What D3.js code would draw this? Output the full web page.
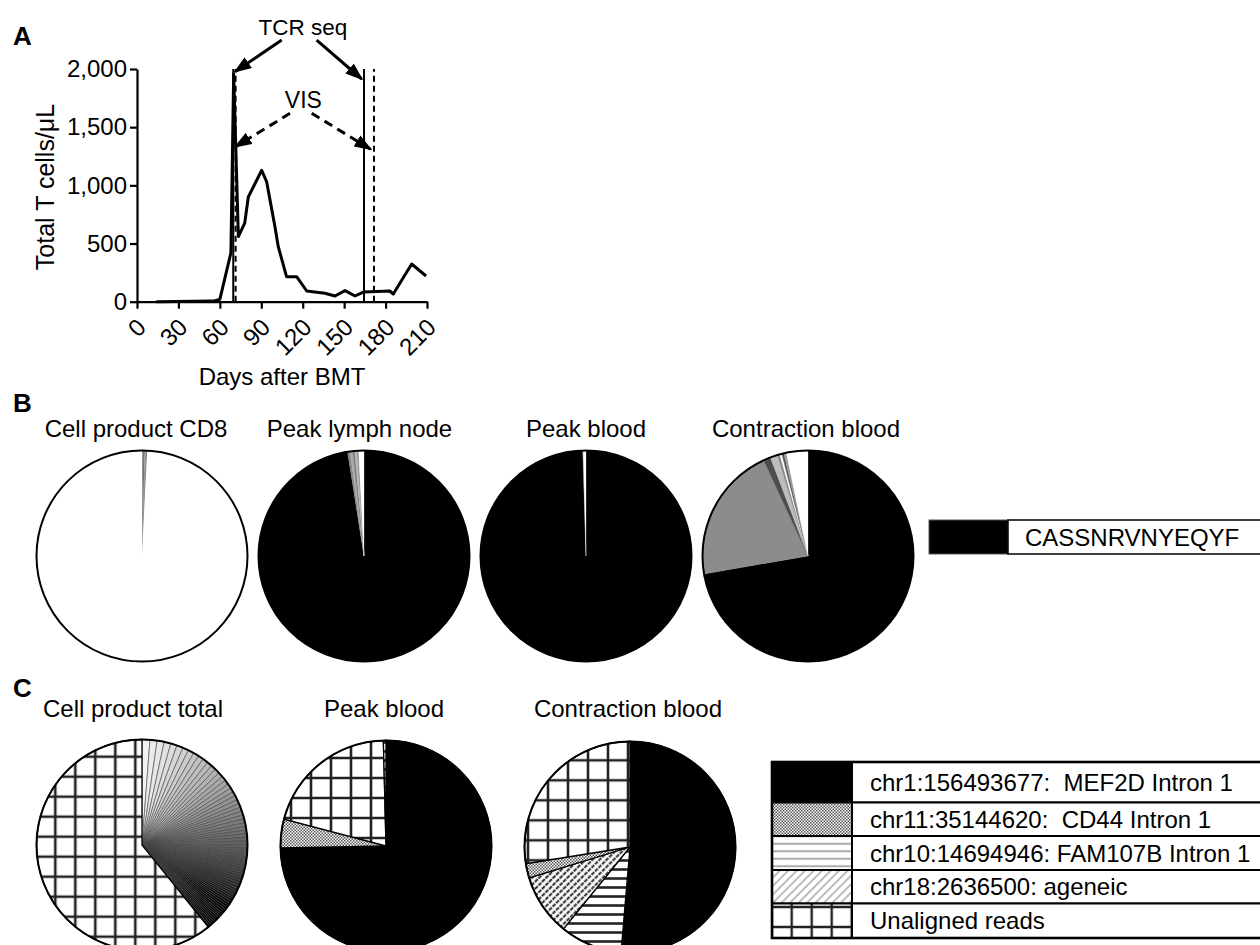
<!DOCTYPE html>
<html><head><meta charset="utf-8">
<script src="https://cdn.jsdelivr.net/npm/d3@7"></script>
<style>
body{margin:0;background:#fff}
svg{display:block}
text{font-family:"Liberation Sans",Arial,Helvetica,sans-serif;fill:#000;white-space:pre}
</style>
</head><body>
<svg id="c" width="1260" height="945"></svg>
<script>
// ---------------- DATA ----------------
// Panel A
const days   = [14,55,60,68,70,73.4,78,80.6,90.3,93.9,99.9,102.3,108.3,115.6,122.9,136,143.4,150.6,157.9,163.9,183,185.6,198.9,209.3];
const tcells = [0,5,20,420,1960,560,675,900,1130,1030,645,473,215,215,92,72,49,95,49,83,92,66,324,221];
const xTicks = [0,30,60,90,120,150,180,210];
const yTicks = [0,500,1000,1500,2000];
const tcrSeqDays = [69.7,164.4];
const visDays = [71.4,171.6];
// annotation arrows in data units: [day0, value0, day1, value1]
const tcrArrows = [[104.8,2249,71,1977],[130.1,2249,162.7,1914]];
const visArrows = [[110.8,1619,71.3,1332],[126.5,1619,169.2,1310]];
const tcrLabel = [120.2,2292];
const visLabel = [120.5,1665];

// Panel B (TCR clone fractions, %)
const bTitles = ["Cell product CD8","Peak lymph node","Peak blood","Contraction blood"];
const bCellProduct = [0.2,0.2,0.2,0.2,99.2];
const bPeakLymph   = [97.5,0.4,0.4,0.3,0.3,0.3,0.8];
const bPeakBlood   = [99.5,0.1,0.4];
const bContraction = [72.2,20.8,1.1,1.1,0.4,0.3,0.3,0.4,3.3];
const bCellProductFill = ["#8a8a8a","#666","#a0a0a0","#777","#fff"];
const bPeakLymphFill   = ["#000","#888","#aaa","#777","#bbb","#999","#fff"];
const bPeakBloodFill   = ["#000","#888","#fff"];
const bContractionFill = ["#000","#8c8c8c","#4d4d4d","#bdbdbd","#8c8c8c","#fff","#555","#999","#fff"];
const seqLabel = "CASSNRVNYEQYF";

// Panel C (vector integration sites, %)
const cTitles = ["Cell product total","Peak blood","Contraction blood"];
const legendLabels = ["chr1:156493677:  MEF2D Intron 1","chr11:35144620:  CD44 Intron 1","chr10:14694946: FAM107B Intron 1","chr18:2636500: ageneic","Unaligned reads"];
const legendCats = ["MEF2D","CD44","FAM107B","ageneic","Unaligned"];
const cCellProductClones = [1.0,0.9,0.9,0.85,0.8,0.8,0.75,0.75,0.7,0.7,
  0.7,0.65,0.65,0.65,0.6,0.6,0.6,0.6,0.55,0.55,
  0.55,0.55,0.5,0.5,0.5,0.5,0.5,0.5,0.45,0.45,
  0.45,0.45,0.45,0.45,0.4,0.4,0.4,0.4,0.4,0.4,
  0.4,0.35,0.35,0.35,0.35,0.35,0.35,0.35,0.35,0.3,
  0.3,0.3,0.3,0.3,0.3,0.3,0.3,0.3,0.3,0.3,
  0.25,0.25,0.25,0.25,0.25,0.25,0.25,0.25,0.25,0.25];
const cCellProductUnaligned = 50.4;
const cPeakBloodCats = ["MEF2D","CD44","Unaligned","FAM107B"];
const cPeakBloodVals = [74.7,4.4,20.5,0.4];
const cContractionCats = ["MEF2D","FAM107B","ageneic","CD44","Unaligned"];
const cContractionVals = [51.3,9.5,9.4,2.2,27.5];

// ---------------- DRAW ----------------
const svg = d3.select("#c");
const defs = svg.append("defs");
const FS = 24;

// patterns
function gridPattern(id, tx, ty, sw){
  const p = defs.append("pattern").attr("id",id).attr("patternUnits","userSpaceOnUse")
    .attr("width",20).attr("height",20).attr("patternTransform",`translate(${tx},${ty})`);
  p.append("rect").attr("width",20).attr("height",20).attr("fill","#fff");
  p.append("path").attr("d","M10,0V20M0,10H20").attr("stroke","#222").attr("stroke-width",sw);
}
gridPattern("grid0",3.3,1.7,2.6);
gridPattern("grid1",15,2,2.6);
gridPattern("grid2",8,3.3,2.6);
gridPattern("gridL",1.7,-3,2.4);
(function(){
  const p = defs.append("pattern").attr("id","cd44").attr("patternUnits","userSpaceOnUse").attr("width",3).attr("height",3);
  p.append("rect").attr("width",3).attr("height",3).attr("fill","#fff");
  p.append("rect").attr("width",1.5).attr("height",1.5).attr("fill","#555");
  p.append("rect").attr("x",1.5).attr("y",1.5).attr("width",1.5).attr("height",1.5).attr("fill","#555");
})();
function hLines(id,h,col,sw){
  const p = defs.append("pattern").attr("id",id).attr("patternUnits","userSpaceOnUse").attr("width",10).attr("height",h);
  p.append("rect").attr("width",10).attr("height",h).attr("fill","#fff");
  p.append("line").attr("x1",0).attr("x2",10).attr("y1",h/2).attr("y2",h/2).attr("stroke",col).attr("stroke-width",sw);
}
hLines("fam",9,"#222",2.6);
hLines("famL",7.5,"#aaa",2);
function dLines(id,s,col,sw,dash){
  const p = defs.append("pattern").attr("id",id).attr("patternUnits","userSpaceOnUse").attr("width",s).attr("height",s)
    .attr("patternTransform","rotate(45)");
  p.append("rect").attr("width",s).attr("height",s).attr("fill","#fff");
  const l = p.append("line").attr("x1",s/2).attr("x2",s/2).attr("y1",0).attr("y2",s).attr("stroke",col).attr("stroke-width",sw);
  if(dash) l.attr("stroke-dasharray",dash);
}
dLines("agen",5,"#1a1a1a",1.9,"2,1");
dLines("agenL",6,"#999",1.3,null);

// arrow marker
defs.append("marker").attr("id","ah").attr("viewBox","0 0 18 13").attr("refX",16).attr("refY",6.5)
  .attr("markerWidth",18).attr("markerHeight",13).attr("markerUnits","userSpaceOnUse").attr("orient","auto")
  .append("path").attr("d","M0,0L18,6.5L0,13Z").attr("fill","#000");

// Panel labels
[["A",13,45],["B",13,412],["C",13,697]].forEach(([t,x,y])=>{
  svg.append("text").attr("x",x).attr("y",y).attr("font-size",26).attr("font-weight","bold").text(t);
});

// ---- Panel A ----
const x = d3.scaleLinear().domain([0,210]).range([137,427]);
const y = d3.scaleLinear().domain([0,2000]).range([301.7,69]);
const gA = svg.append("g");

const yAxis = gA.append("g").attr("transform",`translate(${x(0)},0)`)
  .call(d3.axisLeft(y).tickValues(yTicks).tickFormat(d3.format(",")).tickSize(7).tickSizeOuter(0).tickPadding(3));
const xAxis = gA.append("g").attr("transform",`translate(0,${y(0)})`)
  .call(d3.axisBottom(x).tickValues(xTicks).tickSize(7).tickSizeOuter(0));
[yAxis,xAxis].forEach(a=>{
  a.select(".domain").attr("stroke","#000").attr("stroke-width",2.2);
  a.selectAll(".tick line").attr("stroke","#000").attr("stroke-width",2.2);
  a.selectAll("text").attr("font-size",FS).attr("font-family","Liberation Sans, Arial, sans-serif").attr("fill","#000");
});
xAxis.selectAll(".tick text").attr("text-anchor","end").attr("dy",null).attr("y",null)
  .attr("transform","translate(10,27) rotate(-45)");

gA.append("text").attr("transform",`translate(54,187) rotate(-90)`).attr("text-anchor","middle")
  .attr("font-size",25).text("Total T cells/\u03BCL");
gA.append("text").attr("x",282).attr("y",385).attr("text-anchor","middle").attr("font-size",FS).text("Days after BMT");

// vertical markers
tcrSeqDays.forEach(d=>{
  gA.append("line").attr("x1",x(d)).attr("x2",x(d)).attr("y1",y(0)).attr("y2",y(2000))
    .attr("stroke","#000").attr("stroke-width",2);
});
visDays.forEach(d=>{
  gA.append("line").attr("x1",x(d)).attr("x2",x(d)).attr("y1",y(0)).attr("y2",y(2000))
    .attr("stroke","#000").attr("stroke-width",2).attr("stroke-dasharray","6,4");
});

// data line
gA.append("path").datum(days.map((d,i)=>[d,tcells[i]]))
  .attr("d",d3.line().x(d=>x(d[0])).y(d=>y(d[1])))
  .attr("fill","none").attr("stroke","#000").attr("stroke-width",3).attr("stroke-linejoin","round");

// arrows
tcrArrows.forEach(a=>{
  gA.append("line").attr("x1",x(a[0])).attr("y1",y(a[1])).attr("x2",x(a[2])).attr("y2",y(a[3]))
    .attr("stroke","#000").attr("stroke-width",3).attr("marker-end","url(#ah)");
});
visArrows.forEach(a=>{
  gA.append("line").attr("x1",x(a[0])).attr("y1",y(a[1])).attr("x2",x(a[2])).attr("y2",y(a[3]))
    .attr("stroke","#000").attr("stroke-width",3).attr("stroke-dasharray","9,6").attr("marker-end","url(#ah)");
});
gA.append("text").attr("x",x(tcrLabel[0])).attr("y",y(tcrLabel[1])).attr("text-anchor","middle").attr("font-size",22.5).text("TCR seq");
gA.append("text").attr("x",x(visLabel[0])).attr("y",y(visLabel[1])).attr("text-anchor","middle").attr("font-size",23).text("VIS");

// ---- Panel B ----
const pie = d3.pie().sort(null).value(d=>d);
const R = 105.5;
const arc = d3.arc().innerRadius(0).outerRadius(R);
const bPies = [
  {vals:bCellProduct, fills:bCellProductFill, cx:142, tx:136},
  {vals:bPeakLymph, fills:bPeakLymphFill, cx:364, tx:359.5},
  {vals:bPeakBlood, fills:bPeakBloodFill, cx:586, tx:586},
  {vals:bContraction, fills:bContractionFill, cx:808, tx:806}
];
const bCy = 556;
bPies.forEach((p,i)=>{
  svg.append("text").attr("x",p.tx).attr("y",437).attr("text-anchor","middle").attr("font-size",FS).text(bTitles[i]);
  const g = svg.append("g").attr("transform",`translate(${p.cx},${bCy})`);
  g.selectAll("path").data(pie(p.vals)).join("path").attr("d",arc)
    .attr("fill",(d,j)=>p.fills[j]).attr("stroke",(d,j)=>p.fills[j]).attr("stroke-width",0.3);
  g.append("circle").attr("r",R).attr("fill","none").attr("stroke","#000").attr("stroke-width",2);
});
// sequence legend
svg.append("rect").attr("x",929).attr("y",520).attr("width",79).attr("height",34).attr("fill","#000").attr("stroke","#555").attr("stroke-width",1);
svg.append("rect").attr("x",1008).attr("y",520).attr("width",260).attr("height",34).attr("fill","#fff").attr("stroke","#000").attr("stroke-width",1.5);
svg.append("text").attr("x",1025).attr("y",546).attr("font-size",FS).text(seqLabel);

// ---- Panel C ----
const catFill = {MEF2D:"#000",CD44:"url(#cd44)",FAM107B:"url(#fam)",ageneic:"url(#agen)"};
const cPies = [
  {cx:142, cy:845, tx:133, grid:"grid0",
   vals:[...cCellProductClones, cCellProductUnaligned],
   cats:[...cCellProductClones.map(()=> "clone"), "Unaligned"]},
  {cx:386, cy:846, tx:384, grid:"grid1", vals:cPeakBloodVals, cats:cPeakBloodCats},
  {cx:630, cy:847, tx:628, grid:"grid2", vals:cContractionVals, cats:cContractionCats}
];
const nClones = cCellProductClones.length;
const shade = d3.scaleLinear().domain([0,(nClones-1)*0.12,(nClones-1)*0.82,nClones-1])
  .range(["#f2f2f2","#c4c4c4","#000","#000"]).clamp(true);
cPies.forEach((p,i)=>{
  svg.append("text").attr("x",p.tx).attr("y",717).attr("text-anchor","middle").attr("font-size",FS).text(cTitles[i]);
  const g = svg.append("g").attr("transform",`translate(${p.cx},${p.cy})`);
  g.selectAll("path").data(pie(p.vals)).join("path").attr("d",arc)
    .attr("fill",(d,j)=>{
      const c = p.cats[j];
      if(c==="clone") return shade(j);
      if(c==="Unaligned") return `url(#${p.grid})`;
      return catFill[c];
    })
    .attr("stroke",(d,j)=>p.cats[j]==="clone"?"#444":"#000")
    .attr("stroke-width",(d,j)=>p.cats[j]==="clone"?0.6:1.3);
  g.append("circle").attr("r",R).attr("fill","none").attr("stroke","#000").attr("stroke-width",2);
});

// legend table
const legFill = {MEF2D:"#000",CD44:"url(#cd44)",FAM107B:"url(#famL)",ageneic:"url(#agenL)",Unaligned:"url(#gridL)"};
const rowEdges = [762,802.5,836,870,903.5,938];
const lx0 = 772, lx1 = 852, lx2 = 1268;
legendCats.forEach((c,i)=>{
  const y0 = rowEdges[i], h = rowEdges[i+1]-rowEdges[i];
  svg.append("rect").attr("x",lx0).attr("y",y0).attr("width",lx1-lx0).attr("height",h)
    .attr("fill",legFill[c]).attr("stroke","#000").attr("stroke-width",2);
  svg.append("rect").attr("x",lx1).attr("y",y0).attr("width",lx2-lx1).attr("height",h)
    .attr("fill","#fff").attr("stroke","#000").attr("stroke-width",2);
  svg.append("text").attr("x",870).attr("y",y0+h/2).attr("dy","0.36em").attr("font-size",FS).text(legendLabels[i]);
});
svg.append("rect").attr("x",lx0).attr("y",rowEdges[0]).attr("width",lx2-lx0).attr("height",rowEdges[5]-rowEdges[0])
  .attr("fill","none").attr("stroke","#000").attr("stroke-width",2.6);
</script>
</body></html>
